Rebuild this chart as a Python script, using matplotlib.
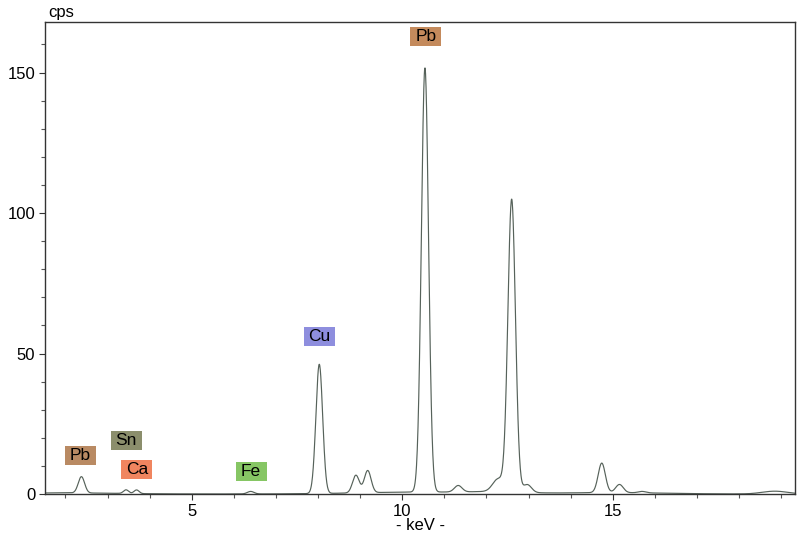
import numpy as np
import matplotlib
matplotlib.use("Agg")
import matplotlib.pyplot as plt
import matplotlib.transforms as mtransforms
from matplotlib.patches import Rectangle

plt.rcParams['font.family'] = ['Liberation Sans', 'DejaVu Sans']

# Peak table (energy keV, height cps, sigma keV)
peak_energy = [2.38, 3.44, 3.69, 6.40, 8.03, 8.90, 9.18, 10.54, 11.33, 12.28, 12.60, 12.97, 14.74, 15.16, 15.70, 18.85]
peak_height = [5.8, 1.3, 1.3, 0.9, 46.0, 6.3, 7.9, 151.0, 2.3, 4.5, 104.0, 2.8, 10.5, 2.9, 0.5, 1.0]
peak_sigma = [0.075, 0.06, 0.06, 0.08, 0.08, 0.08, 0.08, 0.085, 0.09, 0.13, 0.09, 0.1, 0.085, 0.09, 0.09, 0.3]
# Background humps (energy, height, sigma)
bg_energy = [2.0, 10.5, 12.3, 15.0]
bg_height = [0.4, 0.7, 0.5, 0.5]
bg_sigma = [1.2, 1.5, 0.6, 1.2]

labels = ["Pb", "Sn", "Ca", "Fe", "Cu", "Pb"]
label_x = [2.354, 3.446, 3.70, 6.41, 8.03, 10.56]
label_y = [13.7, 18.9, 8.7, 7.9, 56.0, 162.9]
label_colors = ["#b98a63", "#8b8e6c", "#f0855f", "#86c664", "#8e8ede", "#c48a5c"]

x_ticks = [5, 10, 15]
y_ticks = [0, 50, 100, 150]

energy = np.linspace(1.5, 19.4, 3000)
counts = np.zeros_like(energy)
for e, h, s in zip(bg_energy, bg_height, bg_sigma):
    counts += h * np.exp(-0.5 * ((energy - e) / s) ** 2)
for e, h, s in zip(peak_energy, peak_height, peak_sigma):
    counts += h * np.exp(-0.5 * ((energy - e) / s) ** 2)

fig = plt.figure(figsize=(8.0, 5.38), dpi=100)
ax = fig.add_axes([45/800, 44/538, 750/800, 472/538])
ax.plot(energy, counts, color="#56625a", lw=0.85)
ax.set_xlim(1.515, 19.33)
ax.set_ylim(0, 168)

ax.set_xticks(x_ticks)
ax.set_xticklabels([str(t) for t in x_ticks])
ax.set_xticks(np.arange(2, 20, 1), minor=True)
ax.set_yticks(y_ticks)
ax.set_yticklabels([str(t) for t in y_ticks])
ax.set_yticks(np.arange(0, 170, 10), minor=True)
ax.tick_params(axis='both', which='major', direction='out', length=4, width=0.8,
               labelsize=12, color='#333333', pad=3)
ax.tick_params(axis='both', which='minor', direction='out', length=3, width=0.8,
               color='#555555')
for sp in ax.spines.values():
    sp.set_color('#333333')
    sp.set_linewidth(1.0)

for txt, x, y, c in zip(labels, label_x, label_y, label_colors):
    trans = fig.dpi_scale_trans + mtransforms.ScaledTranslation(x, y, ax.transData)
    ax.add_patch(Rectangle((-0.155, -0.095), 0.31, 0.19, transform=trans,
                           facecolor=c, edgecolor='none', zorder=3, clip_on=False))
    ax.text(x, y, txt, ha='center', va='center', fontsize=12.5, color='black', zorder=4)

fig.text(48/800, 1 - 13/538, "cps", fontsize=12, ha='left', va='center')
fig.text(420/800, 1 - 526/538, "- keV -", fontsize=12, ha='center', va='center')

fig.savefig("out.png", dpi=100)
